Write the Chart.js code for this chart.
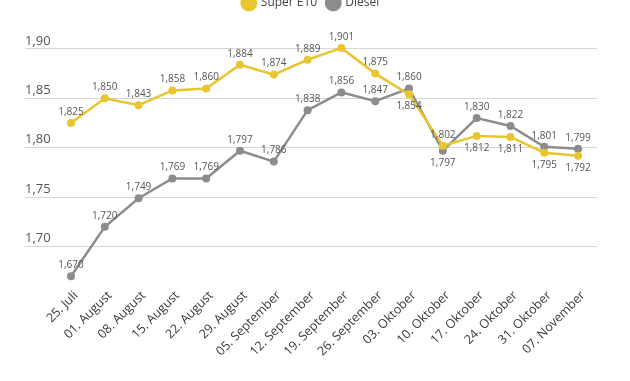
<!DOCTYPE html>
<html>
<head>
<meta charset="utf-8">
<script src="https://cdn.jsdelivr.net/npm/chart.js@4"></script>
<style>
  html, body { margin: 0; padding: 0; background: #fff; overflow: hidden; }
  #wrap { position: relative; width: 630px; height: 394px; margin-top: -13px; }
</style>
</head>
<body>
<div id="wrap"><canvas id="fuelChart"></canvas></div>
<script>
const categories = ["25. Juli", "01. August", "08. August", "15. August", "22. August", "29. August",
    "05. September", "12. September", "19. September", "26. September", "03. Oktober", "10. Oktober",
    "17. Oktober", "24. Oktober", "31. Oktober", "07. November"];
const superE10 = [1.825, 1.850, 1.843, 1.858, 1.860, 1.884, 1.874, 1.889, 1.901, 1.875, 1.854, 1.802, 1.812, 1.811, 1.795, 1.792];
const diesel = [1.670, 1.720, 1.749, 1.769, 1.769, 1.797, 1.786, 1.838, 1.856, 1.847, 1.860, 1.797, 1.830, 1.822, 1.801, 1.799];
const yTicks = [1.70, 1.75, 1.80, 1.85, 1.90];

const yellow = "#e9c630";
const grey = "#8c8c8c";
const fontFamily = "'Open Sans', sans-serif";

const fmt = (v, d) => v.toFixed(d).replace(".", ",");

// value labels above the points, below when the line sits just under the other one
const valueLabels = {
    id: "valueLabels",
    afterDatasetsDraw(chart) {
        const ctx = chart.ctx;
        const sets = chart.data.datasets;
        ctx.save();
        ctx.font = "10px " + fontFamily;
        ctx.fillStyle = "#555";
        ctx.textAlign = "center";
        ctx.textBaseline = "middle";
        sets.forEach((ds, di) => {
            const other = sets[1 - di].data;
            chart.getDatasetMeta(di).data.forEach((pt, i) => {
                const v = ds.data[i].y;
                const o = other[i].y;
                const below = v < o && (o - v) < 0.02;
                ctx.fillText(fmt(v, 3), pt.x, pt.y + (below ? 12 : -11));
            });
        });
        ctx.restore();
    }
};

// extra room between legend and plot
const legendGap = {
    id: "legendGap",
    beforeInit(chart) {
        const fit = chart.legend.fit;
        chart.legend.fit = function () {
            fit.bind(chart.legend)();
            this.height += 20;
        };
    }
};

new Chart(document.getElementById("fuelChart"), {
    type: "line",
    data: {
        datasets: [{
            label: "Super E10",
            data: superE10.map((v, i) => ({ x: i, y: v })),
            borderColor: yellow,
            backgroundColor: yellow,
            borderWidth: 2.5,
            pointRadius: 4,
            pointBorderWidth: 0,
            tension: 0
        }, {
            label: "Diesel",
            data: diesel.map((v, i) => ({ x: i, y: v })),
            borderColor: grey,
            backgroundColor: grey,
            borderWidth: 2.5,
            pointRadius: 4,
            pointBorderWidth: 0,
            tension: 0
        }]
    },
    options: {
        responsive: true,
        maintainAspectRatio: false,
        animation: false,
        layout: { padding: { left: 25, right: 33, top: 0, bottom: 20 } },
        plugins: {
            tooltip: { enabled: false },
            legend: {
                position: "top",
                labels: {
                    usePointStyle: true,
                    pointStyle: "circle",
                    boxWidth: 12,
                    boxHeight: 12,
                    color: "#444",
                    font: { family: fontFamily, size: 12 }
                }
            }
        },
        scales: {
            x: {
                type: "linear",
                min: -1.36,
                max: 15.56,
                afterBuildTicks: axis => { axis.ticks = categories.map((c, i) => ({ value: i })); },
                grid: { display: false, drawTicks: false },
                border: { display: false },
                ticks: {
                    autoSkip: false,
                    minRotation: 45,
                    maxRotation: 45,
                    padding: 2,
                    labelOffset: 5,
                    color: "#3a3a3a",
                    font: { family: fontFamily, size: 12.5 },
                    callback: v => categories[v]
                }
            },
            y: {
                min: 1.66,
                max: 1.91,
                afterBuildTicks: axis => { axis.ticks = yTicks.map(v => ({ value: v })); },
                grid: { color: "#d6d6d6", lineWidth: 1, drawTicks: false },
                border: { display: false },
                ticks: {
                    mirror: true,
                    padding: 0,
                    labelOffset: -8,
                    color: "#555",
                    font: { family: fontFamily, size: 13 },
                    callback: v => fmt(v, 2)
                }
            }
        }
    },
    plugins: [valueLabels, legendGap]
});
</script>
</body>
</html>
